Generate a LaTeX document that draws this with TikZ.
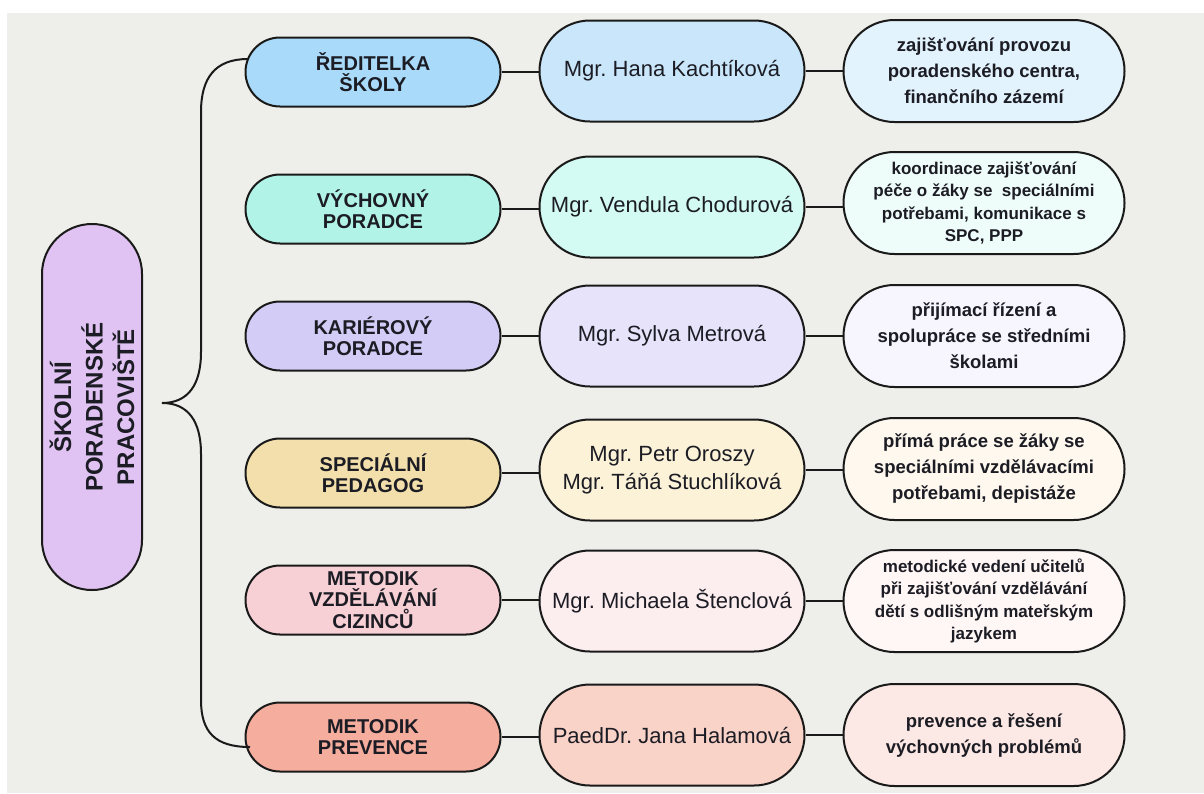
\documentclass[tikz,border=0pt]{standalone}
\usepackage{fontspec}
\setmainfont{Liberation Sans}
\usetikzlibrary{shapes.misc}
\frenchspacing
\definecolor{bg}{HTML}{EEEEEA}
\definecolor{ink}{HTML}{1C1C24}
\definecolor{edge}{HTML}{1A1A1A}
\definecolor{lp}{HTML}{E0C3F2}
\definecolor{aA}{HTML}{A9DAFA}\definecolor{aB}{HTML}{C9E6FA}\definecolor{aC}{HTML}{E3F3FD}
\definecolor{bA}{HTML}{B2F3E8}\definecolor{bB}{HTML}{D3FAF3}\definecolor{bC}{HTML}{EEFCFA}
\definecolor{cA}{HTML}{D2CCF6}\definecolor{cB}{HTML}{E6E3FA}\definecolor{cC}{HTML}{F7F6FE}
\definecolor{dA}{HTML}{F2DFAB}\definecolor{dB}{HTML}{FCF2D8}\definecolor{dC}{HTML}{FEF8EE}
\definecolor{eA}{HTML}{F7D0D5}\definecolor{eB}{HTML}{FCEDEF}\definecolor{eC}{HTML}{FFF6F6}
\definecolor{fA}{HTML}{F5AD9E}\definecolor{fB}{HTML}{F9D2C8}\definecolor{fC}{HTML}{FCE8E4}
\begin{document}
\begin{tikzpicture}[x=1pt,y=-1pt,
  pill/.style={rounded rectangle, draw=edge, line width=2pt, inner sep=0pt, align=center, text=ink},
  roleA/.style={pill, minimum width=255pt, minimum height=69pt, font=\fontsize{20}{21.5}\selectfont\bfseries\frenchspacing},
  nameB/.style={pill, minimum width=265pt, minimum height=101pt, font=\fontsize{22}{28}\selectfont\frenchspacing},
  taskC/.style={pill, minimum width=281pt, minimum height=102pt, font=\fontsize{18.5}{26}\selectfont\bfseries\frenchspacing},
  taskS/.style={taskC, font=\fontsize{17}{22.5}\selectfont\bfseries\frenchspacing},
  link/.style={draw=edge, line width=2pt}]
\useasboundingbox (0,0) rectangle (1204,793);
\fill[white] (0,0) rectangle (1204,793);
\fill[bg] (7,13) rectangle (1204,793);

\node[pill, fill=lp, rotate=90, minimum width=366pt, minimum height=100pt,
  font=\fontsize{24}{31.5}\selectfont\bfseries] (main) at (92,407) {ŠKOLNÍ\\PORADENSKÉ\\PRACOVIŠTĚ};

% column 1
\node[roleA, fill=aA] (r1) at (373,72) {ŘEDITELKA\\ŠKOLY};
\node[roleA, fill=bA] (r2) at (373,209) {VÝCHOVNÝ\\PORADCE};
\node[roleA, fill=cA] (r3) at (373,336) {KARIÉROVÝ\\PORADCE};
\node[roleA, fill=dA] (r4) at (373,473) {SPECIÁLNÍ\\PEDAGOG};
\node[roleA, fill=eA] (r5) at (373,600) {METODIK\\VZDĚLÁVÁNÍ\\CIZINCŮ};
\node[roleA, fill=fA] (r6) at (373,737) {METODIK\\PREVENCE};

% column 2
\node[nameB, fill=aB] (n1) at (672,71) {Mgr. Hana Kachtíková};
\node[nameB, fill=bB] (n2) at (672,207) {Mgr. Vendula Chodurová};
\node[nameB, fill=cB] (n3) at (672,336) {Mgr. Sylva Metrová};
\node[nameB, fill=dB] (n4) at (672,470) {Mgr. Petr Oroszy\\Mgr. Táňá Stuchlíková};
\node[nameB, fill=eB] (n5) at (672,601) {Mgr. Michaela Štenclová};
\node[nameB, fill=fB] (n6) at (672,735) {PaedDr. Jana Halamová};

% column 3
\node[taskC, fill=aC] (t1) at (984,71) {zajišťování provozu\\poradenského centra,\\finančního zázemí};
\node[taskS, fill=bC] (t2) at (984,203) {koordinace zajišťování\\péče o žáky se\ \ speciálními\\potřebami, komunikace s\\SPC, PPP};
\node[taskC, fill=cC] (t3) at (984,336) {přijímací řízení a\\spolupráce se středními\\školami};
\node[taskC, fill=dC] (t4) at (984,469) {přímá práce se žáky se\\speciálními vzdělávacími\\potřebami, depistáže};
\node[taskS, fill=eC] (t5) at (984,601) {metodické vedení učitelů\\při zajišťování vzdělávání\\dětí s odlišným mateřským\\jazykem};
\node[taskC, fill=fC] (t6) at (984,735) {prevence a řešení\\výchovných problémů};

% connectors
\foreach \i in {1,...,6}{
  \draw[link] (r\i.east) -- (r\i.east -| n\i.west);
  \draw[link] (n\i.east) -- (n\i.east -| t\i.west);
}

% brace
\coordinate (btop) at (248,59);
\coordinate (bbot) at (250,747);
\coordinate (btip) at (162,403);
\draw[link] (btop) .. controls (215,59) and (201,78) .. (201,112) -- (201,352)
  .. controls (201,385) and (188,403) .. (btip)
  .. controls (188,403) and (201,421) .. (201,454) -- (201,700)
  .. controls (201,732) and (215,747) .. (bbot);
\end{tikzpicture}
\end{document}
